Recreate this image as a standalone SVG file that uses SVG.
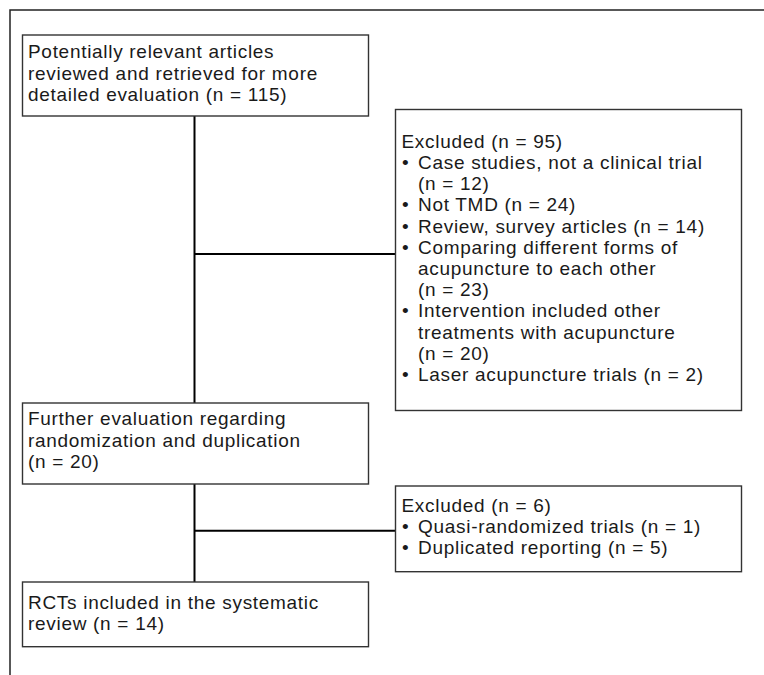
<svg xmlns="http://www.w3.org/2000/svg" width="764" height="675" viewBox="0 0 764 675">
<style>
.box{fill:#fff;stroke:#333;stroke-width:1.4}
.t{font-family:"Liberation Sans",Arial,sans-serif;font-size:19px;letter-spacing:0.7px;fill:#1a1a1a}
.c{stroke:#000;stroke-width:2;fill:none}
.frame{stroke:#222;stroke-width:1.5;fill:none}
</style>
<rect width="764" height="675" fill="#fff"/>
<path class="frame" d="M10,675 V10 H764"/>
<g id="connectors">
<line class="c" x1="194.5" y1="116" x2="194.5" y2="403"/>
<line class="c" x1="194.5" y1="254" x2="395" y2="254"/>
<line class="c" x1="194.5" y1="484" x2="194.5" y2="582"/>
<line class="c" x1="194.5" y1="530.7" x2="395" y2="530.7"/>
</g>
<g id="n1">
<rect class="box" x="22.5" y="35" width="346" height="81"/>
<text class="t" x="28" y="58.3">Potentially relevant articles</text>
<text class="t" x="28" y="80">reviewed and retrieved for more</text>
<text class="t" x="28" y="101.3">detailed evaluation (n = 115)</text>
</g>
<g id="excl1">
<rect class="box" x="395.5" y="109.5" width="346" height="301"/>
<text class="t" x="401.5" y="147.7">Excluded (n = 95)</text>
<text class="t" x="402" y="168.9">•</text>
<text class="t" x="418" y="168.9">Case studies, not a clinical trial</text>
<text class="t" x="418" y="190.1">(n = 12)</text>
<text class="t" x="402" y="211.3">•</text>
<text class="t" x="418" y="211.3">Not TMD (n = 24)</text>
<text class="t" x="402" y="232.5">•</text>
<text class="t" x="418" y="232.5">Review, survey articles (n = 14)</text>
<text class="t" x="402" y="253.7">•</text>
<text class="t" x="418" y="253.7">Comparing different forms of</text>
<text class="t" x="418" y="274.9">acupuncture to each other</text>
<text class="t" x="418" y="296.1">(n = 23)</text>
<text class="t" x="402" y="317.3">•</text>
<text class="t" x="418" y="317.3">Intervention included other</text>
<text class="t" x="418" y="338.5">treatments with acupuncture</text>
<text class="t" x="418" y="359.7">(n = 20)</text>
<text class="t" x="402" y="380.9">•</text>
<text class="t" x="418" y="380.9">Laser acupuncture trials (n = 2)</text>
</g>
<g id="n2">
<rect class="box" x="22.5" y="403" width="346" height="81"/>
<text class="t" x="28" y="425">Further evaluation regarding</text>
<text class="t" x="28" y="446.5">randomization and duplication</text>
<text class="t" x="28" y="467.7">(n = 20)</text>
</g>
<g id="excl2">
<rect class="box" x="395.5" y="486" width="346" height="85.7"/>
<text class="t" x="401.5" y="512.3">Excluded (n = 6)</text>
<text class="t" x="402" y="533.3">•</text>
<text class="t" x="418" y="533.3">Quasi-randomized trials (n = 1)</text>
<text class="t" x="402" y="554.3">•</text>
<text class="t" x="418" y="554.3">Duplicated reporting (n = 5)</text>
</g>
<g id="n3">
<rect class="box" x="22.5" y="582" width="346" height="64.7"/>
<text class="t" x="28" y="609.3">RCTs included in the systematic</text>
<text class="t" x="28" y="630.3">review (n = 14)</text>
</g>
</svg>
